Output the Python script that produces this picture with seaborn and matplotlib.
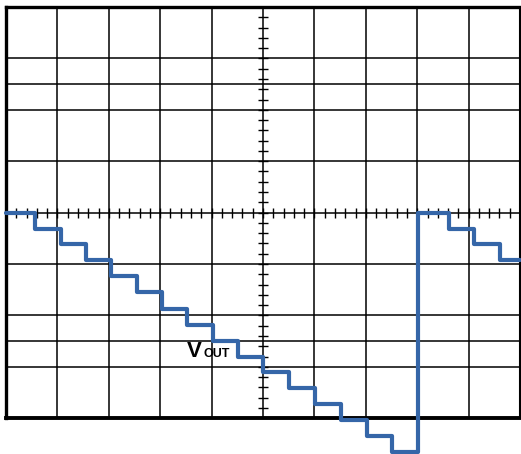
import numpy as np
import pandas as pd
import matplotlib
matplotlib.use("Agg")
import matplotlib.pyplot as plt
import seaborn as sns

# ---- data (divisions) ----
step_times = [0.0, 0.56, 1.07, 1.56, 2.04, 2.55, 3.03, 3.52, 4.03, 4.51, 5.0,
              5.51, 6.01, 6.52, 7.02, 7.51, 8.02, 8.62, 9.11, 9.61, 10.0]
step_levels = [0.0, -0.31, -0.62, -0.93, -1.24, -1.55, -1.87, -2.18, -2.49, -2.80, -3.11,
               -3.42, -3.73, -4.04, -4.35, -4.66, 0.0, -0.31, -0.62, -0.93, -0.93]
vgrid = [1, 2, 3, 4, 5, 6, 7, 8, 9]
hgrid = [3, 2.5, 2, 1, 0, -1, -2, -2.5, -3]
label_main = "V"
label_sub = "OUT"

sns.set_style("white")
plt.rcParams['font.family'] = ['Liberation Sans', 'DejaVu Sans']

fig = plt.figure(figsize=(5.21, 4.54), dpi=100)
ax = fig.add_axes([0, 0, 1, 1])
ax.set_xlim(-0.117, 10.019)
ax.set_ylim(-4.696, 4.136)
ax.set_axis_off()

# grid
for x in vgrid:
    ax.plot([x, x], [-4, 4], color='black', lw=1.1, zorder=1, solid_capstyle='butt')
for y in hgrid:
    ax.plot([0, 10], [y, y], color='black', lw=1.1, zorder=1, solid_capstyle='butt')

# minor ticks on the centre axes
xt = np.round(np.arange(0.2, 10.0, 0.2), 2)
yt = np.round(np.arange(-3.8, 4.0, 0.2), 2)
ax.plot(xt, np.zeros_like(xt), ls='none', marker='|', ms=7, mew=1.0, color='black', zorder=1)
ax.plot(np.full_like(yt, 5.0), yt, ls='none', marker='_', ms=7, mew=1.0, color='black', zorder=1)

# borders
ax.plot([0, 10], [4, 4], color='black', lw=2.4, zorder=2, solid_capstyle='projecting')
ax.plot([0, 0], [-4, 4], color='black', lw=2.4, zorder=2, solid_capstyle='projecting')
ax.plot([0, 10], [-4, -4], color='black', lw=2.8, zorder=2, solid_capstyle='projecting')
ax.plot([10, 10], [-4, 4], color='black', lw=1.5, zorder=2)

# waveform
df = pd.DataFrame({'t': step_times, 'v': step_levels})
sns.lineplot(data=df, x='t', y='v', ax=ax, sort=False, drawstyle='steps-post',
             color='#3566A8', lw=3.0, zorder=5)
ax.set_axis_off()

ax.text(3.52, -2.81, label_main, fontsize=16, fontweight='bold', va='baseline',
        ha='left', color='black', zorder=6)
ax.text(3.85, -2.81, label_sub, fontsize=9, fontweight='bold', va='baseline',
        ha='left', color='black', zorder=6)

fig.savefig('out.png', dpi=100)
